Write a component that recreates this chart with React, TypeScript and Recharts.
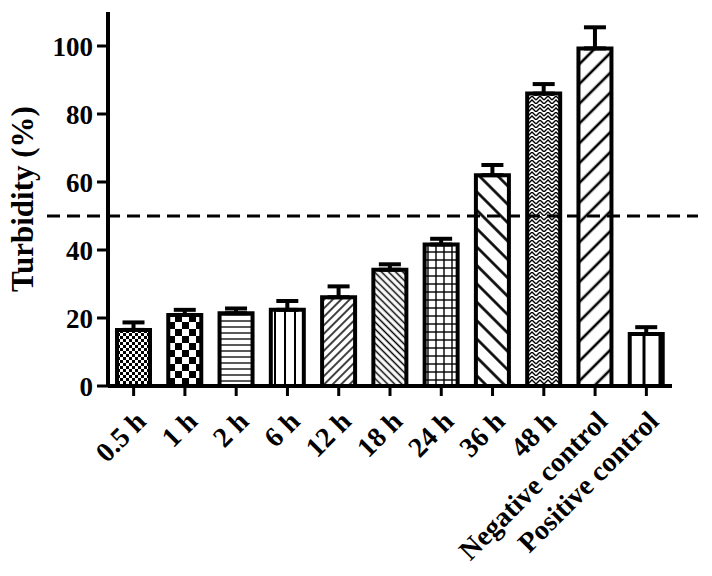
import { BarChart, Bar, XAxis, YAxis, Cell, ErrorBar, ReferenceLine } from 'recharts';

const groups = [
  '0.5 h',
  '1 h',
  '2 h',
  '6 h',
  '12 h',
  '18 h',
  '24 h',
  '36 h',
  '48 h',
  'Negative control',
  'Positive control',
];
const turbidity = [16.5, 20.9, 21.4, 22.4, 26.1, 34.2, 41.6, 62, 86, 99.3, 15.3];
const sem = [2.2, 1.5, 1.4, 2.6, 3.2, 1.6, 1.7, 3, 2.8, 6.2, 2];
const patternIds = [
  'dots',
  'checker',
  'hlines',
  'vlines',
  'diagUp',
  'diagDownDense',
  'grid',
  'diagDownWide',
  'zigzag',
  'diagUpWide',
  'vlinesWide',
];
const yTicks = [0, 20, 40, 60, 80, 100];
const cutoff = 50;

const FONT = '"Liberation Serif", "Times New Roman", serif';

const data = groups.map((name, i) => ({
  name,
  value: turbidity[i],
  err: [0, sem[i]],
}));

// fill patterns for the bars, one per group
function Patterns() {
  return (
    <svg width={0} height={0} style={{ position: 'absolute' }}>
      <defs>
        <pattern id="dots" width={6} height={6} patternUnits="userSpaceOnUse">
          <rect width={6} height={6} fill="#fff" />
          <rect width={3} height={3} fill="#000" />
          <rect x={3} y={3} width={3} height={3} fill="#000" />
        </pattern>
        <pattern id="checker" width={14} height={14} patternUnits="userSpaceOnUse">
          <rect width={14} height={14} fill="#fff" />
          <rect width={7} height={7} fill="#000" />
          <rect x={7} y={7} width={7} height={7} fill="#000" />
        </pattern>
        <pattern id="hlines" width={6} height={6} patternUnits="userSpaceOnUse">
          <rect width={6} height={6} fill="#fff" />
          <line x1={0} y1={3} x2={6} y2={3} stroke="#000" strokeWidth={1.3} />
        </pattern>
        <pattern id="vlines" width={10} height={10} patternUnits="userSpaceOnUse">
          <rect width={10} height={10} fill="#fff" />
          <line x1={5} y1={0} x2={5} y2={10} stroke="#000" strokeWidth={2} />
        </pattern>
        <pattern id="diagUp" width={6} height={6} patternUnits="userSpaceOnUse" patternTransform="rotate(45)">
          <rect width={6} height={6} fill="#fff" />
          <line x1={3} y1={0} x2={3} y2={6} stroke="#000" strokeWidth={1.5} />
        </pattern>
        <pattern id="diagDownDense" width={5} height={5} patternUnits="userSpaceOnUse" patternTransform="rotate(-45)">
          <rect width={5} height={5} fill="#fff" />
          <line x1={2.5} y1={0} x2={2.5} y2={5} stroke="#000" strokeWidth={1.5} />
        </pattern>
        <pattern id="grid" width={8} height={8} patternUnits="userSpaceOnUse">
          <rect width={8} height={8} fill="#fff" />
          <line x1={0} y1={4} x2={8} y2={4} stroke="#000" strokeWidth={1.4} />
          <line x1={4} y1={0} x2={4} y2={8} stroke="#000" strokeWidth={1.4} />
        </pattern>
        <pattern id="diagDownWide" width={13} height={13} patternUnits="userSpaceOnUse" patternTransform="rotate(-45)">
          <rect width={13} height={13} fill="#fff" />
          <line x1={6.5} y1={0} x2={6.5} y2={13} stroke="#000" strokeWidth={2.6} />
        </pattern>
        <pattern id="zigzag" width={8} height={8} patternUnits="userSpaceOnUse">
          <rect width={8} height={8} fill="#fff" />
          <path d="M0 4 L4 0 L8 4 M0 8 L4 4 L8 8" stroke="#000" strokeWidth={1.4} fill="none" />
        </pattern>
        <pattern id="diagUpWide" width={14} height={14} patternUnits="userSpaceOnUse" patternTransform="rotate(45)">
          <rect width={14} height={14} fill="#fff" />
          <line x1={7} y1={0} x2={7} y2={14} stroke="#000" strokeWidth={2.6} />
        </pattern>
        <pattern id="vlinesWide" width={16} height={16} patternUnits="userSpaceOnUse">
          <rect width={16} height={16} fill="#fff" />
          <line x1={4} y1={0} x2={4} y2={16} stroke="#000" strokeWidth={3} />
        </pattern>
      </defs>
    </svg>
  );
}

function XTick({ x, y, payload }: any) {
  return (
    <g transform={`translate(${x + 14},${y + 25})`}>
      <text
        x={0}
        y={0}
        transform="rotate(-45)"
        textAnchor="end"
        fontFamily={FONT}
        fontWeight="bold"
        fontSize={28}
        fill="#000"
      >
        {payload.value}
      </text>
    </g>
  );
}

function YTitle({ viewBox }: any) {
  const cy = viewBox.y + viewBox.height / 2;
  return (
    <text
      x={33}
      y={cy}
      transform={`rotate(-90, 33, ${cy})`}
      textAnchor="middle"
      fontFamily={FONT}
      fontWeight="bold"
      fontSize={31}
      fill="#000"
    >
      Turbidity (%)
    </text>
  );
}

export default function App() {
  return (
    <div style={{ position: 'relative', width: 712, height: 576, margin: -8, background: '#fff' }}>
      <Patterns />
      <BarChart
        width={712}
        height={576}
        data={data}
        margin={{ top: 12, right: 40, left: 0, bottom: 0 }}
        barSize={33}
      >
        <XAxis
          dataKey="name"
          height={190}
          interval={0}
          tick={<XTick />}
          tickSize={10}
          axisLine={{ stroke: '#000', strokeWidth: 4 }}
          tickLine={{ stroke: '#000', strokeWidth: 3 }}
        />
        <YAxis
          width={108}
          domain={[0, 110]}
          ticks={yTicks}
          tickSize={11}
          tickMargin={4}
          axisLine={{ stroke: '#000', strokeWidth: 4 }}
          tickLine={{ stroke: '#000', strokeWidth: 3 }}
          tick={{ fill: '#000', fontFamily: FONT, fontWeight: 'bold', fontSize: 27 }}
          label={<YTitle />}
        />
        <Bar dataKey="value" stroke="#000" strokeWidth={4} isAnimationActive={false}>
          {data.map((d, i) => (
            <Cell key={d.name} fill={`url(#${patternIds[i]})`} />
          ))}
          <ErrorBar dataKey="err" width={11} stroke="#000" strokeWidth={4} />
        </Bar>
        <ReferenceLine
          y={cutoff}
          shape={(p: any) => (
            <line
              x1={p.x1 - 61}
              y1={p.y1}
              x2={p.x2 + 26}
              y2={p.y2}
              stroke="#000"
              strokeWidth={3}
              strokeDasharray="13 7"
            />
          )}
        />
      </BarChart>
    </div>
  );
}
